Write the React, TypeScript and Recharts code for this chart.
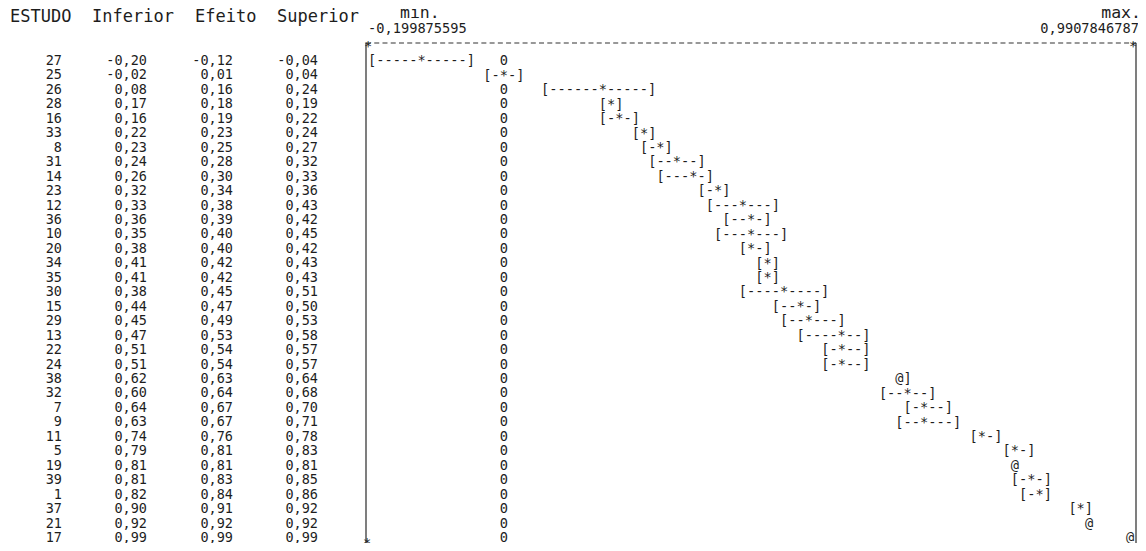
import { Bar, ComposedChart, ReferenceLine, Scatter, XAxis, YAxis } from "recharts";

// tabela de estudos (ordem do gráfico, de cima para baixo)
const estudos = ["27", "25", "26", "28", "16", "33", "8", "31", "14", "23", "12", "36", "10", "20", "34", "35", "30", "15", "29", "13", "22", "24", "38", "32", "7", "9", "11", "5", "19", "39", "1", "37", "21", "17"];
const inferior = [-0.2, -0.02, 0.08, 0.17, 0.16, 0.22, 0.23, 0.24, 0.26, 0.32, 0.33, 0.36, 0.35, 0.38, 0.41, 0.41, 0.38, 0.44, 0.45, 0.47, 0.51, 0.51, 0.62, 0.6, 0.64, 0.63, 0.74, 0.79, 0.81, 0.81, 0.82, 0.9, 0.92, 0.99];
const efeito = [-0.12, 0.01, 0.16, 0.18, 0.19, 0.23, 0.25, 0.28, 0.3, 0.34, 0.38, 0.39, 0.4, 0.4, 0.42, 0.42, 0.45, 0.47, 0.49, 0.53, 0.54, 0.54, 0.63, 0.64, 0.67, 0.67, 0.76, 0.81, 0.81, 0.83, 0.84, 0.91, 0.92, 0.99];
const superior = [-0.04, 0.04, 0.24, 0.19, 0.22, 0.24, 0.27, 0.32, 0.33, 0.36, 0.43, 0.42, 0.45, 0.42, 0.43, 0.43, 0.51, 0.5, 0.53, 0.58, 0.57, 0.57, 0.64, 0.68, 0.7, 0.71, 0.78, 0.83, 0.81, 0.85, 0.86, 0.92, 0.92, 0.99];

const eixoMin = -0.199875595;
const eixoMax = 0.9907846787;
const eixoMinTexto = "-0,199875595";
const eixoMaxTexto = "0,9907846787";
const efeitoNulo = 0;

const MONO = '"DejaVu Sans Mono", monospace';
const INK = "#1d1d1d";

// geometria da área de plotagem (texto em grade de caracteres)
const PLOT_LEFT = 366;
const PLOT_RIGHT = 1136;
const PLOT_W = PLOT_RIGHT - PLOT_LEFT;
const GRID_LEFT = 368;
const COLS = 93;
const CW = 8.24;
const FS = CW / 0.602;

type Linha = { id: string; inf: number; efe: number; sup: number };

const linhas: Linha[] = estudos.map((id, i) => ({
	id,
	inf: inferior[i],
	efe: efeito[i],
	sup: superior[i],
}));

const fmt = (v: number) => v.toFixed(2).replace(".", ",");
const colunaExata = (px: number) => ((px - PLOT_LEFT) / PLOT_W) * COLS;
const coluna = (px: number) => Math.max(0, Math.floor(colunaExata(px) + 1e-6));

/** [---*---] desenhado em caracteres, a partir do retângulo da barra de intervalo. */
function Intervalo(props: any) {
	const { x, y, width, height, payload } = props;
	const d = payload as Linha;
	const cy = y + height / 2;
	const lo = Math.max(d.inf, eixoMin);
	const span = d.sup - lo;
	const pxOf = (v: number) => (span > 0 ? x + (width * (v - lo)) / span : x);

	const cLo = coluna(x);
	const cHi = coluna(x + width);
	const cEfe = coluna(pxOf(d.efe));
	const cZero = d.inf < efeitoNulo && d.sup > efeitoNulo ? Math.round(colunaExata(pxOf(efeitoNulo))) : -1;

	let s = "";
	for (let c = cLo; c <= cHi; c += 1) {
		if (c === cEfe) s += c === cLo || c === cHi ? "@" : "*";
		else if (c === cLo) s += "[";
		else if (c === cHi) s += "]";
		else if (c === cZero) s += "0";
		else s += "-";
	}
	return (
		<text x={GRID_LEFT + cLo * CW} y={cy + 5} fontFamily={MONO} fontSize={FS} fill={INK}>
			{s}
		</text>
	);
}

/** coluna de zeros (efeito nulo) */
function Zero(props: any) {
	const { cx, cy, payload } = props;
	const d = payload as Linha;
	if (d.inf < efeitoNulo && d.sup > efeitoNulo) return <g />;
	const c = Math.round(colunaExata(cx));
	return (
		<text x={GRID_LEFT + c * CW} y={cy + 5} fontFamily={MONO} fontSize={FS} fill={INK}>
			0
		</text>
	);
}

function TabelaTick(props: any) {
	const { y, index } = props;
	const d = linhas[index];
	if (!d) return null;
	const base = y + 5;
	const common = { fontFamily: MONO, fontSize: 13.5, fill: INK, textAnchor: "end" as const };
	return (
		<g>
			<text x={62} y={base} {...common}>{d.id}</text>
			<text x={147} y={base} {...common}>{fmt(d.inf)}</text>
			<text x={233} y={base} {...common}>{fmt(d.efe)}</text>
			<text x={318} y={base} {...common}>{fmt(d.sup)}</text>
		</g>
	);
}

function TickTopo(props: any) {
	const { x, y, index } = props;
	const esquerda = index === 0;
	return (
		<g>
			<text x={esquerda ? x + 2 : x - 3} y={y + 8} textAnchor="middle" fontFamily={MONO} fontSize={FS} fill={INK}>
				*
			</text>
			<text
				x={esquerda ? x + 2 : x + 3}
				y={y - 10}
				textAnchor={esquerda ? "start" : "end"}
				fontFamily={MONO}
				fontSize={FS}
				fill={INK}
			>
				{esquerda ? eixoMinTexto : eixoMaxTexto}
			</text>
			<text
				x={esquerda ? x + 34 : x + 5}
				y={y - 25}
				textAnchor={esquerda ? "start" : "end"}
				fontFamily={MONO}
				fontSize={16.5}
				fill={INK}
			>
				{esquerda ? "mín." : "máx."}
			</text>
		</g>
	);
}

function TickBase(props: any) {
	const { x, y } = props;
	return (
		<text x={x + 1} y={y + 1} textAnchor="middle" fontFamily={MONO} fontSize={FS} fill={INK}>
			*
		</text>
	);
}

const cabecalho: { texto: string; left: number }[] = [
	{ texto: "ESTUDO", left: 10 },
	{ texto: "Inferior", left: 92 },
	{ texto: "Efeito", left: 195 },
	{ texto: "Superior", left: 277 },
];

export default function App() {
	return (
		<div style={{ position: "relative", width: 1146, height: 551, margin: -8, background: "#fff", overflow: "hidden" }}>
			{cabecalho.map((h) => (
				<span
					key={h.texto}
					style={{
						position: "absolute",
						left: h.left,
						top: 6,
						fontFamily: MONO,
						fontSize: 17,
						lineHeight: "20px",
						color: INK,
						whiteSpace: "pre",
					}}
				>
					{h.texto}
				</span>
			))}
			<ComposedChart
				width={1146}
				height={551}
				data={linhas}
				layout="vertical"
				margin={{ top: 0, right: 10, bottom: 0, left: 0 }}
			>
				<XAxis
					type="number"
					orientation="top"
					domain={[eixoMin, eixoMax]}
					allowDataOverflow
					ticks={[eixoMin, eixoMax]}
					interval={0}
					height={43}
					tickSize={0}
					tickMargin={0}
					tickLine={false}
					tick={<TickTopo />}
					axisLine={{ stroke: "#333", strokeDasharray: "5 3.24", strokeWidth: 1.2 }}
				/>
				<XAxis
					xAxisId="base"
					type="number"
					orientation="bottom"
					domain={[eixoMin, eixoMax]}
					allowDataOverflow
					ticks={[eixoMin]}
					interval={0}
					height={4}
					tickSize={0}
					tickMargin={0}
					tickLine={false}
					axisLine={false}
					tick={<TickBase />}
				/>
				<YAxis
					type="category"
					dataKey="id"
					width={366}
					interval={0}
					padding={{ top: 9.8, bottom: 2.8 }}
					tickLine={false}
					tickSize={0}
					tick={<TabelaTick />}
					axisLine={{ stroke: "#3a3a3a", strokeWidth: 1.3 }}
				/>
				<ReferenceLine x={eixoMax} stroke="#3a3a3a" strokeWidth={1.3} />
				<Bar dataKey={(d: Linha) => [d.inf, d.sup]} shape={<Intervalo />} isAnimationActive={false} fill="none" />
				<Scatter dataKey={() => efeitoNulo} shape={<Zero />} isAnimationActive={false} />
			</ComposedChart>
		</div>
	);
}
